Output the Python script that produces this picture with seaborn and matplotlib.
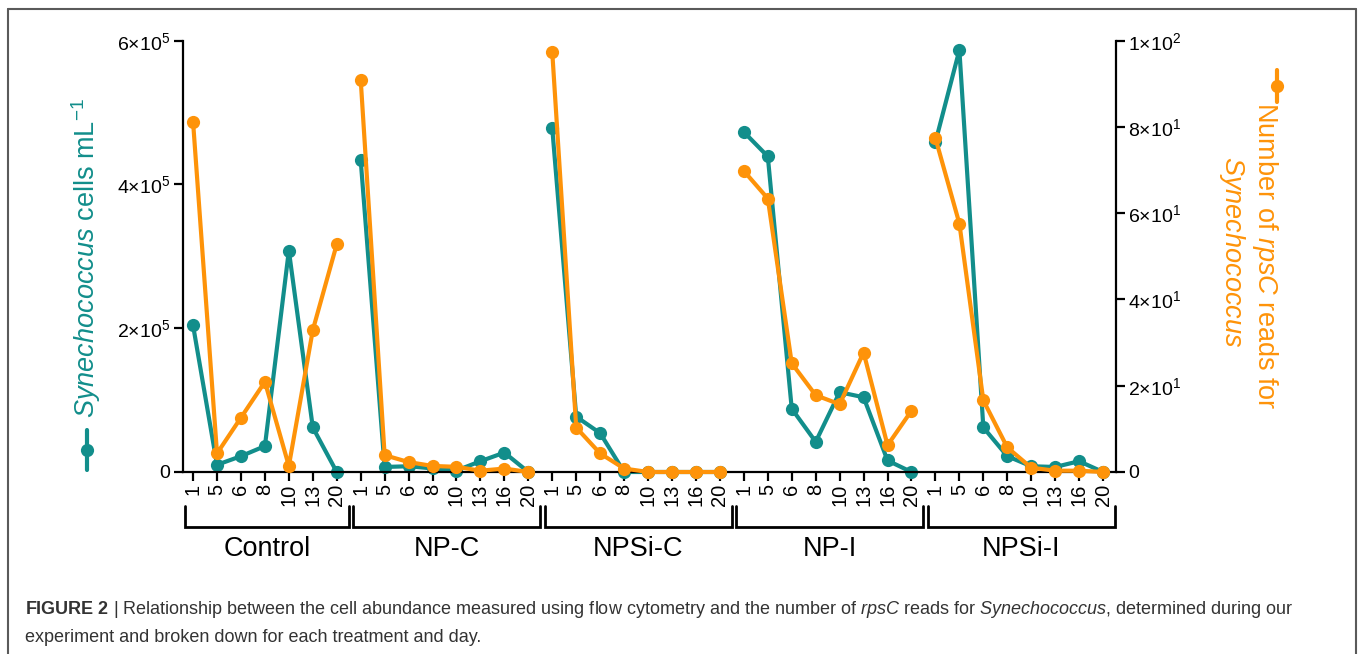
import numpy as np
import pandas as pd
import matplotlib
matplotlib.use("Agg")
import matplotlib.pyplot as plt
import seaborn as sns
from matplotlib.lines import Line2D

# ---------------- data ----------------
groups = ["Control", "NP-C", "NPSi-C", "NP-I", "NPSi-I"]
days_control = [1, 5, 6, 8, 10, 13, 20]
days_other = [1, 5, 6, 8, 10, 13, 16, 20]

cells_control = [2.04e5, 1.0e4, 2.2e4, 3.6e4, 3.08e5, 6.2e4, 0]
cells_npc = [4.34e5, 7e3, 8e3, 5e3, 2e3, 1.5e4, 2.7e4, 0]
cells_npsic = [4.78e5, 7.7e4, 5.4e4, 0, 0, 0, 0, 0]
cells_npi = [4.73e5, 4.39e5, 8.8e4, 4.2e4, 1.11e5, 1.04e5, 1.6e4, 0]
cells_npsii = [4.59e5, 5.87e5, 6.2e4, 2.2e4, 8e3, 7e3, 1.5e4, 0]

reads_control = [81.2, 4.3, 12.6, 20.9, 1.4, 32.9, 52.8]
reads_npc = [91.0, 3.9, 2.3, 1.4, 1.2, 0.3, 0.8, 0]
reads_npsic = [97.3, 10.3, 4.3, 0.8, 0, 0, 0, 0]
reads_npi = [69.8, 63.4, 25.2, 17.8, 15.7, 27.7, 6.2, 14.2]
reads_npsii = [77.4, 57.6, 16.6, 5.7, 1.0, 0.3, 0.3, 0]

left_ticks = [0, 2e5, 4e5, 6e5]
left_labels = ["0", "2×10$^{5}$", "4×10$^{5}$", "6×10$^{5}$"]
right_ticks = [0, 20, 40, 60, 80, 100]
right_labels = ["0", "2×10$^{1}$", "4×10$^{1}$", "6×10$^{1}$", "8×10$^{1}$", "1×10$^{2}$"]

TEAL = "#128e8b"
ORANGE = "#fe9309"

# ---------------- build table ----------------
group_days = [days_control, days_other, days_other, days_other, days_other]
group_cells = [cells_control, cells_npc, cells_npsic, cells_npi, cells_npsii]
group_reads = [reads_control, reads_npc, reads_npsic, reads_npi, reads_npsii]
rows = []
pos = 0
for g, d, c, r in zip(groups, group_days, group_cells, group_reads):
    for dd, cc, rr in zip(d, c, r):
        rows.append(dict(group=g, day=dd, pos=pos, cells=cc, reads=rr))
        pos += 1
df = pd.DataFrame(rows)

# ---------------- style ----------------
sns.set_theme(style="ticks")
plt.rcParams["font.family"] = ["Liberation Sans", "DejaVu Sans"]
plt.rcParams["mathtext.fontset"] = "custom"
plt.rcParams["mathtext.rm"] = "Liberation Sans"
plt.rcParams["mathtext.it"] = "Liberation Sans:italic"
plt.rcParams["mathtext.bf"] = "Liberation Sans:bold"

W, H = 1358, 654
fig = plt.figure(figsize=(W / 100, H / 100), dpi=100)
fig.patch.set_facecolor("white")

x0, x1, y0, y1 = 183, 1116, 472, 40.7
ax = fig.add_axes([x0 / W, 1 - y0 / H, (x1 - x0) / W, (y0 - y1) / H])
ax2 = ax.twinx()

line_kw = dict(linewidth=3.0, marker="o", markersize=9.5, markeredgewidth=0, clip_on=False)
sns.lineplot(data=df, x="pos", y="cells", units="group", estimator=None,
             color=TEAL, ax=ax, legend=False, sort=False, **line_kw)
sns.lineplot(data=df, x="pos", y="reads", units="group", estimator=None,
             color=ORANGE, ax=ax2, legend=False, sort=False, **line_kw)

n = len(df)
ax.set_xlim(-0.42, n - 1 + 0.54)
ax.set_ylim(0, 6e5)
ax2.set_ylim(0, 100)

ax.set_xticks(df["pos"])
ax.set_xticklabels([str(d) for d in df["day"]], rotation=90, fontsize=14.5, color="black")
ax.set_yticks(left_ticks)
ax.set_yticklabels(left_labels, fontsize=14, color="black")
ax2.set_yticks(right_ticks)
ax2.set_yticklabels(right_labels, fontsize=14, color="black")
ax.set_xlabel("")
ax.set_ylabel("")
ax2.set_ylabel("")

for a in (ax, ax2):
    for s in a.spines.values():
        s.set_linewidth(1.6)
        s.set_color("black")
    a.spines["top"].set_visible(False)
    a.tick_params(width=1.6, length=6.5, color="black", pad=2.5)
ax.tick_params(axis="x", pad=2)
ax.spines["right"].set_visible(False)
ax2.spines["left"].set_visible(False)
ax2.spines["bottom"].set_visible(False)
ax.grid(False)
ax2.grid(False)
ax.patch.set_alpha(0)

# group brackets and labels
trans = ax.get_xaxis_transform()
start = 0
for g, d in zip(groups, group_days):
    first = start
    last = start + len(d) - 1
    xa, xb = first - 0.32, last + 0.5
    ax.plot([xa, xa, xb, xb], [-0.079, -0.128, -0.128, -0.079], color="black",
            lw=2.0, transform=trans, clip_on=False, solid_joinstyle="miter")
    ax.text((xa + xb) / 2, -0.1787, g, transform=trans, ha="center", va="center",
            fontsize=19.5, color="black")
    start = last + 1

# axis titles with legend symbols
fig.text(86 / W, 1 - 258 / H, r"$\it{Synechococcus}$ cells mL$^{-1}$", rotation=90,
         ha="center", va="center", fontsize=19.5, color=TEAL)
fig.add_artist(Line2D([87 / W, 87 / W], [1 - 430 / H, 1 - 470 / H], color=TEAL, lw=3.0))
fig.add_artist(Line2D([87 / W], [1 - 450 / H], color=TEAL, marker="o", markersize=9.5,
                      markeredgewidth=0))

fig.text(1265 / W, 1 - 256 / H, r"Number of $\it{rpsC}$ reads for", rotation=270,
         ha="center", va="center", fontsize=19.5, color=ORANGE)
fig.text(1232 / W, 1 - 252 / H, r"$\it{Synechococcus}$", rotation=270,
         ha="center", va="center", fontsize=19.5, color=ORANGE)
fig.add_artist(Line2D([1277 / W, 1277 / W], [1 - 70 / H, 1 - 102 / H], color=ORANGE, lw=3.0))
fig.add_artist(Line2D([1277 / W], [1 - 86 / H], color=ORANGE, marker="o", markersize=9.5,
                      markeredgewidth=0))

# outer frame
fc = "#5a5a5a"
fig.add_artist(Line2D([8 / W, 1356 / W], [1 - 9 / H, 1 - 9 / H], color=fc, lw=1.5))
fig.add_artist(Line2D([8 / W, 8 / W], [1 - 9 / H, 0], color=fc, lw=1.5))
fig.add_artist(Line2D([1356 / W, 1356 / W], [1 - 9 / H, 0], color=fc, lw=1.5))

# caption
cap1 = (r"$\bf{FIGURE\ 2}$ | Relationship between the cell abundance measured using flow cytometry "
        r"and the number of $\it{rpsC}$ reads for $\it{Synechococcus}$, determined during our")
cap2 = "experiment and broken down for each treatment and day."
fig.text(25 / W, 1 - 609 / H, cap1, ha="left", va="center", fontsize=13, color="#333333")
fig.text(25 / W, 1 - 637 / H, cap2, ha="left", va="center", fontsize=13, color="#333333")

fig.savefig("out.png", dpi=100, facecolor="white")
